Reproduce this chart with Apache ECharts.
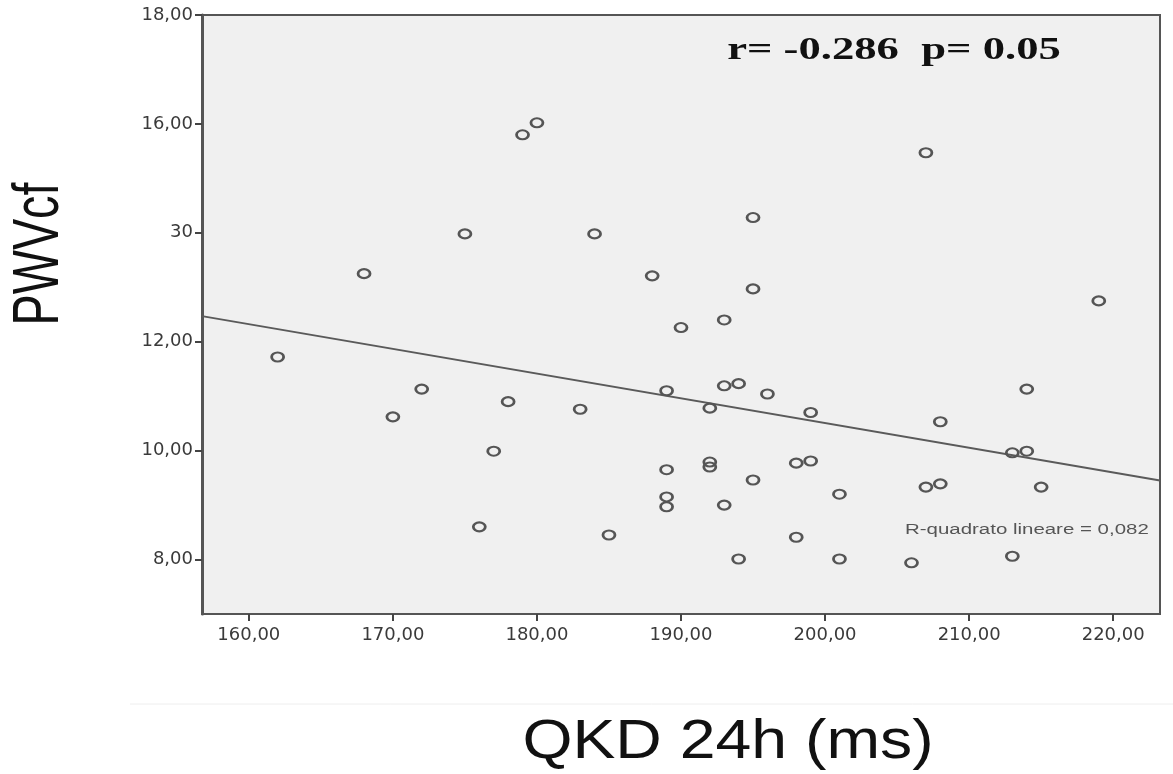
<!DOCTYPE html>
<html>
<head>
<meta charset="utf-8">
<script src="https://cdn.jsdelivr.net/npm/echarts@6/dist/echarts.min.js"></script>
<style>html,body{margin:0;padding:0;background:#fff;}#chart{width:1173px;height:774px;}</style>
</head>
<body>
<div id="chart"></div>
<script>
// QKD 24h (ms) values
const qkd = [162,168,170,172,175,176,177,178,179,180,183,184,185,188,189,189,189,189,190,192,192,192,193,193,193,194,194,195,195,195,196,198,198,199,199,201,201,206,207,207,208,208,213,213,214,214,215,219];
// PWVcf values
const pwv = [11.72,13.25,10.62,11.13,13.98,8.60,9.99,10.90,15.80,16.02,10.76,13.98,8.45,13.21,11.10,9.65,9.15,8.97,12.26,10.78,9.79,9.70,12.40,11.19,9.00,11.23,8.01,14.28,12.97,9.46,11.04,9.77,8.41,10.70,9.81,9.20,8.01,7.94,15.47,9.33,9.39,10.53,9.96,8.06,11.13,9.99,9.33,12.75];
// linear fit line end points
const fitX = [156.75, 223.25];
const fitY = [12.47, 9.45];
const xTicks = [160,170,180,190,200,210,220];
const xTickLabels = ['160,00','170,00','180,00','190,00','200,00','210,00','220,00'];
const yTicks = [8,10,12,14,16,18];
const yTickLabels = ['8,00','10,00','12,00','30','16,00','18,00'];
const xTitle = 'QKD 24h (ms)';
const yTitle = 'PWVcf';
const statText = 'r= -0.286  p= 0.05';
const r2Text = 'R-quadrato lineare = 0,082';

const chart = echarts.init(document.getElementById('chart'));
const lookup = (ticks, labels) => v => {
  const i = ticks.findIndex(t => Math.abs(t - v) < 1e-6);
  return i >= 0 ? labels[i] : '';
};
chart.setOption({
  animation: false,
  backgroundColor: '#ffffff',
  grid: {
    left: 202, right: 13, top: 15, bottom: 160,
    containLabel: false, outerBoundsMode: 'none',
    show: true, backgroundColor: '#f0f0f0', borderColor: '#555', borderWidth: 2
  },
  xAxis: {
    type: 'value', min: 156.75, max: 223.25,
    splitLine: { show: false },
    axisLine: { show: true, onZero: false, lineStyle: { color: '#555', width: 2 } },
    axisTick: { show: true, customValues: xTicks, length: 7, lineStyle: { color: '#444', width: 2 } },
    axisLabel: { customValues: xTicks, formatter: lookup(xTicks, xTickLabels), margin: 12,
      color: '#3a3a3a', fontSize: 18, fontFamily: 'DejaVu Sans' }
  },
  yAxis: {
    type: 'value', min: 7, max: 18,
    splitLine: { show: false },
    axisLine: { show: true, onZero: false, lineStyle: { color: '#555', width: 3 } },
    axisTick: { show: true, customValues: yTicks, length: 7, lineStyle: { color: '#444', width: 2 } },
    axisLabel: { customValues: yTicks, formatter: lookup(yTicks, yTickLabels), margin: 9,
      color: '#3a3a3a', fontSize: 18, fontFamily: 'DejaVu Sans' }
  },
  series: [
    {
      type: 'line',
      data: fitX.map((x, i) => [x, fitY[i]]),
      showSymbol: false, symbol: 'none',
      lineStyle: { color: '#5a5a5a', width: 2 },
      z: 2
    },
    {
      type: 'scatter',
      data: qkd.map((x, i) => [x, pwv[i]]),
      symbol: 'circle',
      symbolSize: [12, 9],
      itemStyle: { color: 'rgba(240,240,240,0)', borderColor: '#555', borderWidth: 2.4, opacity: 1 },
      z: 3
    }
  ],
  graphic: [
    { type: 'line', shape: { x1: 130, y1: 704, x2: 1173, y2: 704 }, style: { stroke: '#eeeeee', lineWidth: 1 }, silent: true },
    { type: 'text', x: 894, y: 51, scaleX: 1.44, z: 10,
      style: { text: statText, font: 'bold 31px "Liberation Serif"', fill: '#111', align: 'center', verticalAlign: 'middle' } },
    { type: 'text', x: 905, y: 530, scaleX: 1.46, z: 10,
      style: { text: r2Text, font: '14px "Liberation Sans"', fill: '#555', align: 'left', verticalAlign: 'middle' } },
    { type: 'text', x: 728, y: 743, scaleX: 1.17, z: 10,
      style: { text: xTitle, font: '55px "Liberation Sans"', fill: '#111', align: 'center', verticalAlign: 'middle' } },
    { type: 'text', x: 40, y: 254, rotation: Math.PI / 2, scaleX: 0.73, z: 10,
      style: { text: yTitle, font: '64px "Liberation Sans"', fill: '#111', align: 'center', verticalAlign: 'middle' } }
  ]
});
</script>
</body>
</html>
